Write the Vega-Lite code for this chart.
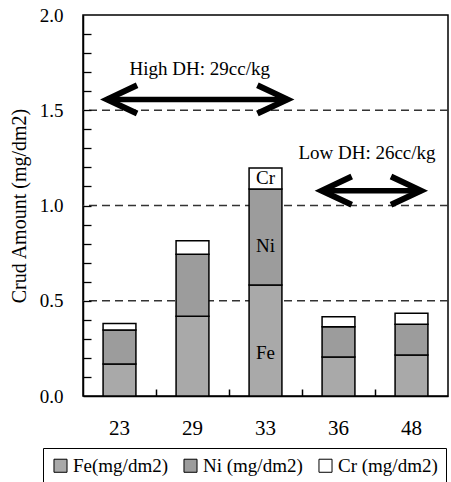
{
  "$schema": "https://vega.github.io/schema/vega-lite/v6.json",
  "width": 365,
  "height": 381,
  "autosize": {"type": "none"},
  "padding": {"left": 83, "top": 15, "right": 3, "bottom": 86},
  "background": "white",
  "config": {
    "view": {"stroke": "black", "strokeWidth": 1.5},
    "font": "Liberation Serif",
    "axis": {"labelFont": "Liberation Serif", "titleFont": "Liberation Serif", "labelColor": "black", "titleColor": "black", "domainColor": "black", "tickColor": "black", "titleFontWeight": "normal"}
  },
  "layer": [
    {
      "encoding": {
        "y": {
          "field": "Amount", "type": "quantitative",
          "scale": {"domain": [0, 2], "nice": false},
          "axis": {
            "title": "Crud Amount (mg/dm2)", "titleFontSize": 20, "titlePadding": 10,
            "values": [0, 0.5, 1.0, 1.5, 2.0], "format": ".1f",
            "labelOverlap": false,
            "labelFontSize": 19, "labelPadding": 20, "ticks": false, "grid": false, "domainWidth": 1.5
          }
        }
      },
      "layer": [
        {
          "data": {"values": [{"Amount": 0.5}, {"Amount": 1.0}, {"Amount": 1.5}]},
          "mark": {"type": "rule", "color": "#333333", "strokeWidth": 1.5, "strokeDash": [8, 5]},
          "encoding": {}
        },
        {
          "data": {"values": [
            {"Sample": "23", "Element": "Fe(mg/dm2)", "k": 1, "Amount": 0.168},
            {"Sample": "23", "Element": "Ni (mg/dm2)", "k": 2, "Amount": 0.178},
            {"Sample": "23", "Element": "Cr (mg/dm2)", "k": 3, "Amount": 0.035},
            {"Sample": "29", "Element": "Fe(mg/dm2)", "k": 1, "Amount": 0.418},
            {"Sample": "29", "Element": "Ni (mg/dm2)", "k": 2, "Amount": 0.326},
            {"Sample": "29", "Element": "Cr (mg/dm2)", "k": 3, "Amount": 0.071},
            {"Sample": "33", "Element": "Fe(mg/dm2)", "k": 1, "Amount": 0.583},
            {"Sample": "33", "Element": "Ni (mg/dm2)", "k": 2, "Amount": 0.503},
            {"Sample": "33", "Element": "Cr (mg/dm2)", "k": 3, "Amount": 0.111},
            {"Sample": "36", "Element": "Fe(mg/dm2)", "k": 1, "Amount": 0.205},
            {"Sample": "36", "Element": "Ni (mg/dm2)", "k": 2, "Amount": 0.159},
            {"Sample": "36", "Element": "Cr (mg/dm2)", "k": 3, "Amount": 0.052},
            {"Sample": "48", "Element": "Fe(mg/dm2)", "k": 1, "Amount": 0.215},
            {"Sample": "48", "Element": "Ni (mg/dm2)", "k": 2, "Amount": 0.161},
            {"Sample": "48", "Element": "Cr (mg/dm2)", "k": 3, "Amount": 0.058}
          ]},
          "mark": {"type": "bar", "stroke": "black", "strokeWidth": 1.5},
          "encoding": {
            "x": {
              "field": "Sample", "type": "nominal",
              "scale": {"domain": ["23", "29", "33", "36", "48"], "paddingInner": 0.55, "paddingOuter": 0.275},
              "axis": {"title": null, "labelAngle": 0, "labelFontSize": 21, "labelPadding": 21, "ticks": false, "domainWidth": 1.5}
            },
            "order": {"field": "k", "type": "quantitative"},
            "fill": {
              "field": "Element", "type": "nominal",
              "scale": {"domain": ["Fe(mg/dm2)", "Ni (mg/dm2)", "Cr (mg/dm2)"], "range": ["#a9a9a9", "#9c9c9c", "#ffffff"]},
              "legend": {
                "title": null, "orient": "none", "legendX": -40, "legendY": 433,
                "direction": "horizontal", "columns": 3,
                "strokeColor": "black", "padding": 8,
                "symbolType": "square", "symbolSize": 170, "symbolStrokeColor": "black", "symbolStrokeWidth": 1,
                "labelFont": "Liberation Serif", "labelFontSize": 19, "labelColor": "black", "labelOffset": 3,
                "columnPadding": 13
              }
            }
          }
        },
        {
          "data": {"values": [
            {"Sample": "33", "label": "Cr", "Amount": 1.142},
            {"Sample": "33", "label": "Ni", "Amount": 0.79},
            {"Sample": "33", "label": "Fe", "Amount": 0.225}
          ]},
          "mark": {"type": "text", "font": "Liberation Serif", "fontSize": 19, "color": "black"},
          "encoding": {
            "x": {"field": "Sample", "type": "nominal"},
            "text": {"field": "label"}
          }
        }
      ]
    },
    {
      "data": {"values": [
        {"arrow": "High DH", "from": 0.33, "to": 2.8, "Amount": 1.557},
        {"arrow": "Low DH", "from": 3.27, "to": 4.63, "Amount": 1.078}
      ]},
      "encoding": {
        "y": {
          "field": "Amount", "type": "quantitative",
          "scale": {"domain": [0, 2], "nice": false},
          "axis": {
            "orient": "right", "offset": -365, "title": null, "labels": false, "domain": false, "grid": false,
            "values": [0.1, 0.2, 0.3, 0.4, 0.5, 0.6, 0.7, 0.8, 0.9, 1.0, 1.1, 1.2, 1.3, 1.4, 1.5, 1.6, 1.7, 1.8, 1.9],
            "ticks": true, "tickSize": 8, "tickWidth": 1.3, "tickColor": "black", "zindex": 2
          }
        }
      },
      "layer": [
        {
          "mark": {"type": "rule", "color": "black", "strokeWidth": 5.5},
          "encoding": {
            "x": {
              "field": "from", "type": "quantitative", "scale": {"domain": [0, 5], "nice": false, "zero": false},
              "axis": {"orient": "top", "offset": -381, "title": null, "labels": false, "domain": false, "grid": false, "values": [1, 2, 3, 4], "ticks": true, "tickSize": 7, "tickWidth": 1.5, "tickColor": "black", "zindex": 2}
            },
            "x2": {"field": "to"}
          }
        },
        {
          "mark": {"type": "point", "shape": "M1,-0.47L0,0L1,0.47", "size": 3600, "filled": false, "stroke": "black", "strokeWidth": 6, "opacity": 1, "strokeJoin": "miter"},
          "encoding": {
            "x": {"field": "from", "type": "quantitative"}
          }
        },
        {
          "mark": {"type": "point", "shape": "M-1,-0.47L0,0L-1,0.47", "size": 3600, "filled": false, "stroke": "black", "strokeWidth": 6, "opacity": 1, "strokeJoin": "miter"},
          "encoding": {
            "x": {"field": "to", "type": "quantitative"}
          }
        },
        {
          "data": {"values": [
            {"note": "High DH: 29cc/kg", "cx": 1.6, "Amount": 1.717},
            {"note": "Low DH: 26cc/kg", "cx": 3.89, "Amount": 1.275}
          ]},
          "mark": {"type": "text", "font": "Liberation Serif", "fontSize": 19, "color": "black"},
          "encoding": {
            "x": {"field": "cx", "type": "quantitative"},
            "text": {"field": "note"}
          }
        }
      ]
    }
  ],
  "resolve": {"scale": {"x": "independent", "y": "independent"}}
}
